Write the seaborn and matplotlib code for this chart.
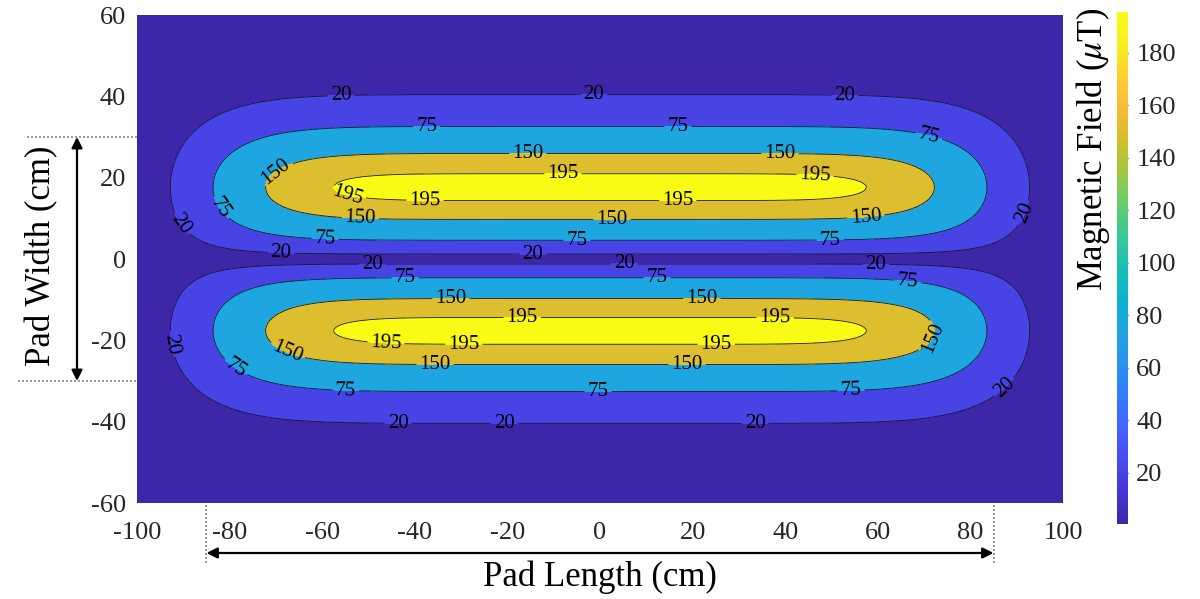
import numpy as np
import matplotlib
matplotlib.use("Agg")
import matplotlib.pyplot as plt
import matplotlib.colors as mcolors
import matplotlib.transforms as mtransforms
import matplotlib.cm as mcm
import seaborn as sns

# ---- data -------------------------------------------------------------
# contour levels of the magnetic flux density (uT)
contour_levels = [20, 75, 150, 195]
# colour scale limits of the colour bar (uT)
cbar_min, cbar_max = 0.5, 195.5
cbar_ticks = [20, 40, 60, 80, 100, 120, 140, 160, 180]

x_ticks = [-100, -80, -60, -40, -20, 0, 20, 40, 60, 80, 100]
y_ticks = [-60, -40, -20, 0, 20, 40, 60]

# field model parameters of the two pad lobes (cm, uT)
peak_field = 206.0
lobe_offset = 17.5      # lobe centre distance from y = 0
lobe_width = 15.0       # gaussian width across the pad
lobe_length = 83.5      # super-gaussian half length along the pad
length_order = 8.0

pad_length = 170.0      # cm (annotated)
pad_width = 60.0        # cm (annotated)

# parula colour map anchors
parula_anchors = [
    (0.2422, 0.1504, 0.6603), (0.2706, 0.2147, 0.8364), (0.2813, 0.3006, 0.9414),
    (0.2699, 0.3892, 0.9906), (0.1963, 0.4847, 0.9892), (0.1687, 0.5703, 0.9359),
    (0.1248, 0.6459, 0.8883), (0.0297, 0.7082, 0.8163), (0.0964, 0.7500, 0.7120),
    (0.2161, 0.7843, 0.5923), (0.3909, 0.8029, 0.4354), (0.6174, 0.7876, 0.2612),
    (0.8203, 0.7498, 0.1535), (0.9728, 0.7298, 0.2394), (0.9892, 0.8136, 0.1885),
    (0.9628, 0.9373, 0.1265), (0.9769, 0.9839, 0.0805),
]

# ---- style ------------------------------------------------------------
sns.set_theme(style="white")
plt.rcParams["font.family"] = ["Liberation Serif", "DejaVu Serif"]
plt.rcParams["mathtext.fontset"] = "stix"
plt.rcParams["axes.unicode_minus"] = False
text_color = "#262626"

parula = mcolors.LinearSegmentedColormap.from_list("parula", parula_anchors, N=256)
norm = mcolors.Normalize(vmin=cbar_min, vmax=cbar_max)

# ---- field ------------------------------------------------------------
xg = np.linspace(-100, 100, 801)
yg = np.linspace(-60, 60, 481)
XX, YY = np.meshgrid(xg, yg)
along = np.exp(-(np.abs(XX) / lobe_length) ** length_order)
across = np.abs(np.exp(-((YY - lobe_offset) / lobe_width) ** 2)
                - np.exp(-((YY + lobe_offset) / lobe_width) ** 2))
field = peak_field * along * across

# ---- figure -----------------------------------------------------------
fig = plt.figure(figsize=(12, 5.99), dpi=100)
ax = fig.add_axes([137 / 1200, 1 - 503 / 599, 926 / 1200, 488 / 599])

fill_bounds = [0] + contour_levels + [max(field.max(), contour_levels[-1] + 1)]
band_colors = [parula(norm(v)) for v in [cbar_min] + contour_levels]
ax.contourf(XX, YY, field, levels=fill_bounds, colors=band_colors)
lines = ax.contour(XX, YY, field, levels=contour_levels,
                   colors="#15152a", linewidths=0.6)

label_spots = [
    # 20
    (-55.9, 39.8), (-1.3, 40.8), (52.9, 39.8), (-90.7, 8.4), (91.8, 11.3),
    (-68.9, 1.2), (-14.5, 1.0), (-49.2, -1.5), (5.2, -1.5), (59.6, -1.5),
    (-93.5, -21.1), (86.0, -29.8), (-43.6, -40.8), (-20.7, -41.3), (33.5, -41.3),
    # 75
    (-37.4, 31.5), (16.8, 31.7), (70.8, 28.8), (-81.6, 12.8), (-59.4, 4.4),
    (-5.0, 3.9), (49.7, 3.9), (-42.1, -4.4), (12.3, -4.4), (66.5, -4.9),
    (-78.4, -26.3), (-54.9, -31.0), (-0.4, -32.2), (54.2, -31.5),
    # 150
    (-69.3, 20.4), (-15.6, 24.8), (38.9, 24.8), (-51.8, 9.1), (2.6, 9.1),
    (57.5, 9.8), (-32.2, -9.3), (22.0, -9.3), (70.8, -18.7), (-68.0, -24.1),
    (-35.6, -25.3), (18.8, -25.3),
    # 195
    (-54.4, 16.2), (-37.8, 13.5), (-8.0, 19.4), (16.8, 13.5), (46.4, 19.4),
    (-16.8, -14.0), (37.8, -14.0), (-46.2, -19.9), (-29.4, -20.4), (25.1, -20.4),
]
ax.clabel(lines, manual=label_spots, inline=True, inline_spacing=3,
          fontsize=15, fmt="%d", colors="black")

ax.set_xlim(-100, 100)
ax.set_ylim(-60, 60)
ax.set_xticks(x_ticks)
ax.set_yticks(y_ticks)
ax.tick_params(axis="both", length=0, labelsize=19, labelcolor=text_color)
ax.tick_params(axis="x", pad=14)
ax.tick_params(axis="y", pad=8)
for sp in ax.spines.values():
    sp.set_visible(False)

# ---- colour bar -------------------------------------------------------
cax = fig.add_axes([1117 / 1200, 1 - 524 / 599, 11 / 1200, 512 / 599])
sm = mcm.ScalarMappable(norm=norm, cmap=parula)
cb = fig.colorbar(sm, cax=cax, ticks=cbar_ticks)
cb.outline.set_visible(False)
cax.tick_params(direction="in", length=3, width=1, color="#333333",
                labelsize=19, labelcolor=text_color, pad=6)
fig.text(1093 / 1200, 1 - 8 / 599, r"Magnetic Field ($\mu$T)", rotation=90,
         ha="center", va="top", fontsize=25, color="black")

# ---- pad dimension annotations ---------------------------------------
arrow_kw = dict(arrowstyle="<|-|>", color="black", lw=1.6,
                mutation_scale=16, shrinkA=0, shrinkB=0)

# pad width: vertical arrow between dotted guides
vtrans = mtransforms.blended_transform_factory(fig.transFigure, ax.transData)
half_w = pad_width / 2
ax.annotate("", xy=(77 / 1200, half_w), xytext=(77 / 1200, -half_w),
            xycoords=vtrans, textcoords=vtrans, arrowprops=arrow_kw,
            annotation_clip=False)
for yy, x0 in [(half_w, 27), (-half_w, 18)]:
    ax.plot([x0 / 1200, 137 / 1200], [yy, yy], transform=vtrans, clip_on=False,
            color="#888888", lw=1.2, ls=(0, (1.2, 1.2)))
fig.text(42 / 1200, 1 - 256 / 599, "Pad Width (cm)", rotation=90,
         ha="center", va="center", fontsize=25, color="black")

# pad length: horizontal arrow between dotted guides
htrans = mtransforms.blended_transform_factory(ax.transData, fig.transFigure)
half_l = pad_length / 2
ax.annotate("", xy=(-half_l, 1 - 553 / 599), xytext=(half_l, 1 - 553 / 599),
            xycoords=htrans, textcoords=htrans, arrowprops=arrow_kw,
            annotation_clip=False)
for xx in (-half_l, half_l):
    ax.plot([xx, xx], [1 - 505 / 599, 1 - 564 / 599], transform=htrans,
            clip_on=False, color="#888888", lw=1.2, ls=(0, (1.2, 1.2)))
fig.text(600 / 1200, 1 - 577 / 599, "Pad Length (cm)", ha="center",
         va="center", fontsize=25, color="black")

fig.savefig("out.png", dpi=100)
